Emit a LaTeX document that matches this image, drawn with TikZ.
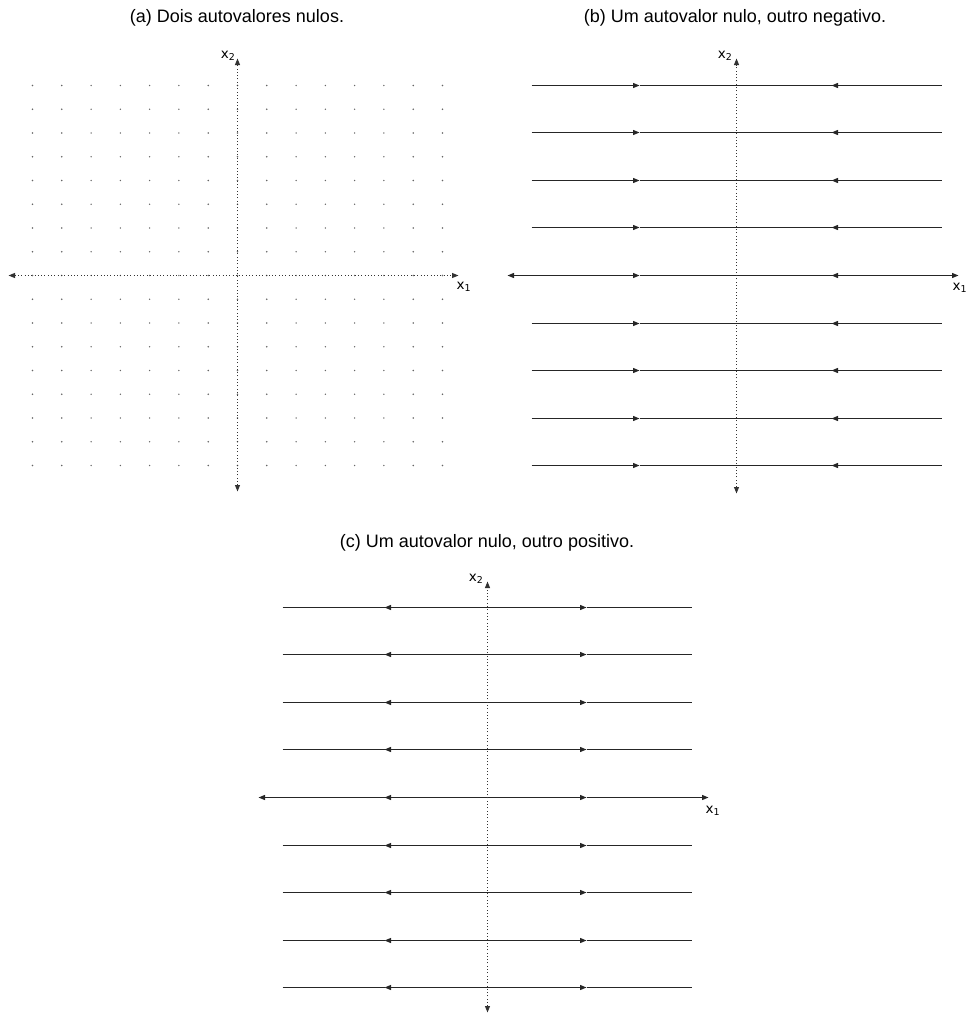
\documentclass[tikz,border=0pt]{standalone}
\usepackage{fontspec}
\setmainfont{Liberation Sans}
\newfontfamily\axfont{DejaVu Sans}
\usetikzlibrary{arrows.meta}
\begin{document}
\begin{tikzpicture}[x=1pt,y=-1pt,
  tipA/.tip={Triangle[length=6.5pt,width=5pt]},
  axisdot/.style={line width=0.9pt,black!80,dash pattern=on 0.9pt off 2.4pt},
  flowline/.style={line width=1.2pt,black!85},
  griddot/.style={fill=black!60},
  title/.style={font=\fontsize{18}{22}\selectfont,anchor=center},
  axlabel/.style={font=\axfont\fontsize{13.5}{15}\selectfont,inner sep=0pt}]
\useasboundingbox (0,0) rectangle (968,1017);

% ---------- titles
\node[title] (ta) at (237,18) {(a) Dois autovalores nulos.};
\node[title] (tb) at (735,18) {(b) Um autovalor nulo, outro negativo.};
\node[title] (tc) at (487,543) {(c) Um autovalor nulo, outro positivo.};

% ---------- panel (a)
\def\cx{237.5}\def\cy{275.5}
\foreach \i in {0,...,14}{
  \foreach \j in {0,...,16}{
    \fill[griddot] ({\cx-205+\i*29.2857},{\cy-190+\j*23.75}) circle[radius=0.8pt];
  }
}
\coordinate (a-xl) at ({\cx-229},\cy);
\coordinate (a-xr) at ({\cx+221},\cy);
\coordinate (a-yt) at (\cx,{\cy-217});
\coordinate (a-yb) at (\cx,{\cy+216});
\draw[axisdot,{tipA}-{tipA}] (a-xl) -- (a-xr);
\draw[axisdot,{tipA}-{tipA}] (a-yb) -- (a-yt);
\node[axlabel,anchor=base east] (a-l2) at ([xshift=-2pt]a-yt) {x\textsubscript{2}};
\node[axlabel,anchor=north west] (a-l1) at ([xshift=-2pt,yshift=-6pt]a-xr) {x\textsubscript{1}};

% ---------- panel (b)
\def\cx{736.5}\def\cy{275.5}
\foreach \k in {-4,-3,-2,-1,1,2,3,4}{
  \pgfmathsetmacro{\ry}{round(275+\k*47.6)+0.5}
  \draw[flowline,-{tipA}] ({\cx-205},\ry) -- ({\cx-97},\ry);
  \draw[flowline,-{tipA}] ({\cx+205},\ry) -- ({\cx+95},\ry);
  \draw[flowline] ({\cx-97},\ry) -- ({\cx+95},\ry);
}
\coordinate (b-xl) at ({\cx-229},\cy);
\coordinate (b-xr) at ({\cx+222},\cy);
\coordinate (b-m1) at ({\cx-97},\cy);
\coordinate (b-m2) at ({\cx+95},\cy);
\coordinate (b-yt) at (\cx,{\cy-217});
\coordinate (b-yb) at (\cx,{\cy+218});
\draw[flowline,{tipA}-{tipA}] (b-xl) -- (b-m1);
\draw[flowline] (b-m1) -- (b-m2);
\draw[flowline,{tipA}-{tipA}] (b-m2) -- (b-xr);
\draw[axisdot,{tipA}-{tipA}] (b-yb) -- (b-yt);
\node[axlabel,anchor=base east] (b-l2) at ([xshift=-4pt]b-yt) {x\textsubscript{2}};
\node[axlabel,anchor=north west] (b-l1) at ([xshift=-6pt,yshift=-7pt]b-xr) {x\textsubscript{1}};

% ---------- panel (c)
\def\cx{487.5}\def\cy{797.5}
\foreach \k in {-4,-3,-2,-1,1,2,3,4}{
  \pgfmathsetmacro{\ry}{round(797+\k*47.6)+0.5}
  \draw[flowline,-{tipA}] (\cx,\ry) -- ({\cx-103},\ry);
  \draw[flowline,-{tipA}] (\cx,\ry) -- ({\cx+99},\ry);
  \draw[flowline] ({\cx-205},\ry) -- ({\cx-103},\ry);
  \draw[flowline] ({\cx+99},\ry) -- ({\cx+204},\ry);
}
\coordinate (c-xl) at ({\cx-229},\cy);
\coordinate (c-xr) at ({\cx+221},\cy);
\coordinate (c-o) at (\cx,\cy);
\coordinate (c-m1) at ({\cx-103},\cy);
\coordinate (c-m2) at ({\cx+99},\cy);
\coordinate (c-yt) at (\cx,{\cy-216});
\coordinate (c-yb) at (\cx,{\cy+215});
\draw[flowline,-{tipA}] (c-o) -- (c-m1);
\draw[flowline,-{tipA}] (c-o) -- (c-m2);
\draw[flowline,-{tipA}] (c-m1) -- (c-xl);
\draw[flowline,-{tipA}] (c-m2) -- (c-xr);
\draw[axisdot,{tipA}-{tipA}] (c-yb) -- (c-yt);
\node[axlabel,anchor=base east] (c-l2) at ([xshift=-4pt]c-yt) {x\textsubscript{2}};
\node[axlabel,anchor=north west] (c-l1) at ([xshift=-3pt,yshift=-8pt]c-xr) {x\textsubscript{1}};
\end{tikzpicture}
\end{document}
